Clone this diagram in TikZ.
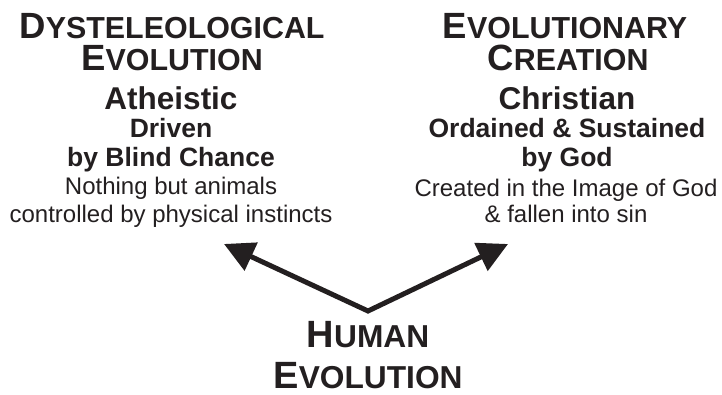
\documentclass[tikz,border=0pt]{standalone}
\usepackage{fontspec}
\setmainfont{Liberation Sans}
\usetikzlibrary{arrows.meta}
\definecolor{Encre}{RGB}{35,31,32}
\newcommand\petitcap[4]{{\fontsize{#1}{#1}\selectfont #3}{\fontsize{#2}{#2}\selectfont #4}}
\tikzset{titre/.style={anchor=base, inner sep=0pt, text=Encre, font=\bfseries}}
\tikzset{sous/.style={titre, font=\fontsize{31.5}{31.5}\selectfont\bfseries}}
\tikzset{moyen/.style={titre, font=\fontsize{26.5}{26.5}\selectfont\bfseries}}
\tikzset{texte/.style={titre, font=\fontsize{24}{24}\selectfont}}
\tikzset{fl/.style={{Triangle[length=30pt,width=30pt]}-{Triangle[length=30pt,width=30pt]},
  draw=Encre, line width=5pt, line join=miter}}

\begin{document}
\begin{tikzpicture}[x=1pt, y=-1pt]
\useasboundingbox (0,0) rectangle (722,395);
% colonne gauche
\node[titre] (l1) at (172,39) {\petitcap{36.5}{30.4}{D}{YSTELEOLOGICAL}};
\node[titre] (l2) at (172,71) {\petitcap{36.5}{30.4}{E}{VOLUTION}};
\node[sous]  (l3) at (171,110) {Atheistic};
\node[moyen] (l4) at (171,138) {Driven};
\node[moyen] (l5) at (171,167) {by Blind Chance};
\node[texte] (l6) at (171,195) {Nothing but animals};
\node[texte] (l7) at (171,223) {controlled by physical instincts};
% colonne droite
\node[titre] (r1) at (565,39) {\petitcap{36.5}{30.4}{E}{VOLUTIONARY}};
\node[titre] (r2) at (568,71) {\petitcap{36.5}{30.4}{C}{REATION}};
\node[sous]  (r3) at (567,110) {Christian};
\node[moyen] (r4) at (567,138) {Ordained \& Sustained};
\node[moyen] (r5) at (567,167) {by God};
\node[texte] (r6) at (566,197) {Created in the Image of God};
\node[texte] (r7) at (566,223) {\& fallen into sin};
% bas
\node[titre] (h1) at (368,347) {\petitcap{38}{31.7}{H}{UMAN}};
\node[titre] (h2) at (368,388) {\petitcap{38}{31.7}{E}{VOLUTION}};
\coordinate (v) at (368,311);
\coordinate (tg) at (224,244);
\coordinate (td) at (508,244);
\draw[fl] (tg) -- (v) -- (td);
\end{tikzpicture}
\end{document}
